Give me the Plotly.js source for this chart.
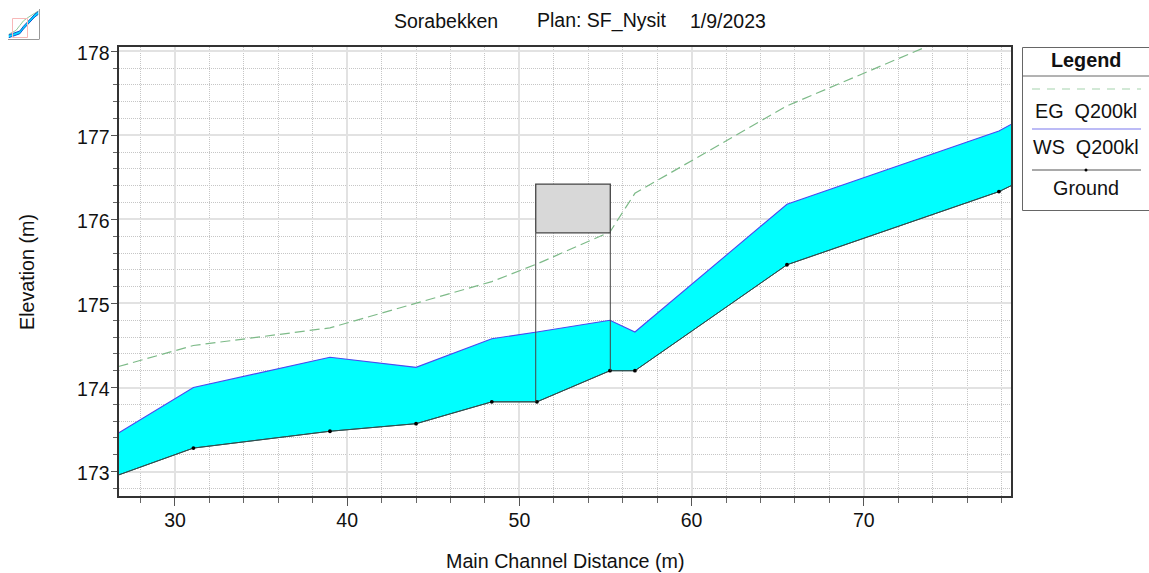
<!DOCTYPE html>
<html>
<head>
<meta charset="utf-8">
<script src="https://cdn.plot.ly/plotly-3.0.1.min.js"></script>
<style>html,body{margin:0;padding:0;background:#fff;overflow:hidden}</style>
</head>
<body>
<div id="chart" style="width:1149px;height:573px"></div>
<script>
// Stations along the main channel (m); first and last are where the view cuts the profile
const stations = [26.72, 31.07, 39.0, 44.0, 48.4, 51.02, 55.26, 56.71, 65.54, 77.85, 78.55];
const ground   = [172.96, 173.28, 173.48, 173.57, 173.83, 173.83, 174.20, 174.20, 175.46, 176.33, 176.40];
const wsQ200   = [173.46, 174.00, 174.36, 174.24, 174.58, 174.66, 174.80, 174.66, 176.18, 177.05, 177.13];
const egQ200   = [174.25, 174.50, 174.71, 175.00, 175.26, 175.47, 175.85, 176.31, 177.35, 178.42, 178.48];

// Bridge deck
const deckStations = [50.95, 55.28];
const deckLow  = 175.84;
const deckHigh = 176.42;

// Axes
const xRange = [26.72, 78.55];
const yRange = [172.71, 178.05];

// Thumbnail icon in the top left: the whole reach
const iconX  = [0, 1, 2, 3, 4, 5, 6, 7, 8];
const iconBed= [0.05, 0.35, 0.65, 1.05, 2.25, 3.35, 4.25, 5.25, 5.95];
const iconWs = [0.75, 1.05, 1.35, 1.75, 2.95, 4.05, 4.95, 5.95, 6.65];
const iconEg = [0.9, 1.3, 1.9, 3.1, 4.3, 5.0, 5.6, 6.2, 6.8];

// Text
const titleParts = ['Sorabekken', 'Plan: SF_Nysit', '1/9/2023'];
const legendEntries = ['EG\u00a0\u00a0Q200kl', 'WS\u00a0\u00a0Q200kl', 'Ground'];

const FONT = 'Liberation Sans, Arial, sans-serif';
const W = 1149, H = 573;
const L = 118.5, R = 1011, T = 47, B = 496;
const px = v => v / W;
const py = v => 1 - v / H;

const traces = [
  {x: stations, y: egQ200, mode: 'lines', line: {color: '#7dba88', width: 1.2, dash: '10px 5px'}, hoverinfo: 'skip'},
  {x: stations, y: ground, mode: 'lines', line: {color: '#2f4f4f', width: 1}, hoverinfo: 'skip'},
  {x: stations, y: wsQ200, mode: 'lines', line: {color: '#4a4af0', width: 1.1}, fill: 'tonexty', fillcolor: '#00ffff', hoverinfo: 'skip'},
  // Re-draw the ground line over the fill, with its survey points
  {x: stations, y: ground, mode: 'lines', line: {color: '#2f4f4f', width: 1}, hoverinfo: 'skip'},
  {x: stations.slice(1, -1), y: ground.slice(1, -1), mode: 'markers', marker: {color: '#000', size: 3.8}, hoverinfo: 'skip'},
  // Bridge piers and deck
  {x: [deckStations[0], deckStations[0]], y: [deckLow, ground[5]], mode: 'lines', line: {color: '#444', width: 1}, hoverinfo: 'skip'},
  {x: [deckStations[1], deckStations[1]], y: [deckLow, ground[6]], mode: 'lines', line: {color: '#444', width: 1}, hoverinfo: 'skip'},
  {x: [deckStations[0], deckStations[1], deckStations[1], deckStations[0], deckStations[0]],
   y: [deckLow, deckLow, deckHigh, deckHigh, deckLow], mode: 'lines', fill: 'toself', fillcolor: '#d8d8d8',
   line: {color: '#444', width: 1.3}, hoverinfo: 'skip'},
  // Thumbnail
  {x: iconX, y: iconEg, xaxis: 'x2', yaxis: 'y2', mode: 'lines', line: {color: '#8fc79a', width: 1}, hoverinfo: 'skip'},
  {x: iconX, y: iconBed, xaxis: 'x2', yaxis: 'y2', mode: 'lines', line: {color: '#1050d0', width: 1}, hoverinfo: 'skip'},
  {x: iconX, y: iconWs, xaxis: 'x2', yaxis: 'y2', mode: 'lines', line: {color: '#1050d0', width: 1}, fill: 'tonexty', fillcolor: '#00e0ff', hoverinfo: 'skip'}
];

const legendLines = [
  {y: 89, color: '#a5d4ae', dash: '8px 7px'},
  {y: 129, color: '#7a78ee', dash: 'solid'},
  {y: 170, color: '#555', dash: 'solid'}
];

const shapes = [
  // Legend box (runs off the right side of the image)
  {type: 'rect', xref: 'paper', yref: 'paper', x0: px(1022.5), x1: px(1152), y0: py(47.5), y1: py(210.5), line: {color: '#666', width: 1}},
  {type: 'line', xref: 'paper', yref: 'paper', x0: px(1022.5), x1: px(1149), y0: py(76), y1: py(76), line: {color: '#666', width: 1}},
  ...legendLines.map(l => ({type: 'line', xref: 'paper', yref: 'paper', x0: px(1032), x1: px(1141), y0: py(l.y), y1: py(l.y), line: {color: l.color, width: 1.2, dash: l.dash}})),
  {type: 'circle', xref: 'paper', yref: 'paper', x0: px(1084.5), x1: px(1087.5), y0: py(168.5), y1: py(171.5), fillcolor: '#000', line: {color: '#000', width: 0}},
  // Thumbnail frame
  {type: 'rect', xref: 'paper', yref: 'paper', x0: px(12.5), x1: px(27.5), y0: py(37.5), y1: py(18.5), line: {color: '#f8b8b8', width: 1}},
  {type: 'line', xref: 'paper', yref: 'paper', x0: px(39.5), x1: px(39.5), y0: py(39), y1: py(9), line: {color: '#999', width: 1}},
  {type: 'line', xref: 'paper', yref: 'paper', x0: px(8), x1: px(39.5), y0: py(39.5), y1: py(39.5), line: {color: '#999', width: 1}}
];

const note = (text, x, y, size, extra) => Object.assign({
  text, xref: 'paper', yref: 'paper', x: px(x), y: py(y), showarrow: false,
  xanchor: 'center', yanchor: 'middle', font: {family: FONT, size, color: '#111'}
}, extra || {});

const annotations = [
  note(titleParts[0], 445.5, 21, 19.5),
  note(titleParts[1], 601.5, 21, 19.5),
  note(titleParts[2], 727.5, 21, 19.5),
  note('<b>Legend</b>', 1086, 60, 19.8),
  note(legendEntries[0], 1086, 111, 19.8),
  note(legendEntries[1], 1085.5, 147, 19.8),
  note(legendEntries[2], 1086, 188, 19.8),
  note('Main Channel Distance (m)', 565.5, 561, 19.7),
  note('Elevation (m)', 27, 272, 19.7, {textangle: -90})
];

const layout = {
  width: W, height: H,
  margin: {l: 0, r: 0, t: 0, b: 0, pad: 0},
  paper_bgcolor: '#fff', plot_bgcolor: '#fff',
  showlegend: false,
  font: {family: FONT, color: '#111'},
  xaxis: {
    range: xRange, domain: [px(L), px(R)], anchor: 'y', tick0: 0, dtick: 10, ticks: 'outside', ticklen: 8, tickwidth: 1, tickcolor: '#555',
    tickfont: {family: FONT, size: 19.5, color: '#111'}, ticklabelstandoff: -2, showgrid: true, gridcolor: '#e2e2e2', gridwidth: 2, zeroline: false,
    showline: true, mirror: true, linecolor: '#333', linewidth: 2,
    minor: {dtick: 2, tick0: 0, ticks: 'outside', ticklen: 5, tickcolor: '#666', tickwidth: 1, showgrid: true, gridcolor: '#c6c6c6', griddash: '1px 1px', gridwidth: 1}
  },
  yaxis: {
    range: yRange, domain: [py(B), py(T)], anchor: 'x', tick0: 173, dtick: 1, ticks: 'outside', ticklen: 6, tickwidth: 1, tickcolor: '#555',
    tickfont: {family: FONT, size: 19.5, color: '#111'}, ticklabelstandoff: -3, ticklabelshift: 2, showgrid: true, gridcolor: '#e2e2e2', gridwidth: 2, zeroline: false,
    showline: true, mirror: true, linecolor: '#333', linewidth: 2,
    minor: {dtick: 0.2, tick0: 173, ticks: 'outside', ticklen: 4, tickcolor: '#666', tickwidth: 1, showgrid: true, gridcolor: '#c6c6c6', griddash: '1px 1px', gridwidth: 1}
  },
  xaxis2: {domain: [px(8.5), px(38.5)], range: [0, 8], anchor: 'y2', visible: false, fixedrange: true},
  yaxis2: {domain: [py(38), py(10)], range: [0, 7], anchor: 'x2', visible: false, fixedrange: true},
  shapes, annotations
};

Plotly.newPlot('chart', traces, layout, {displayModeBar: false, staticPlot: true});
</script>
</body>
</html>
